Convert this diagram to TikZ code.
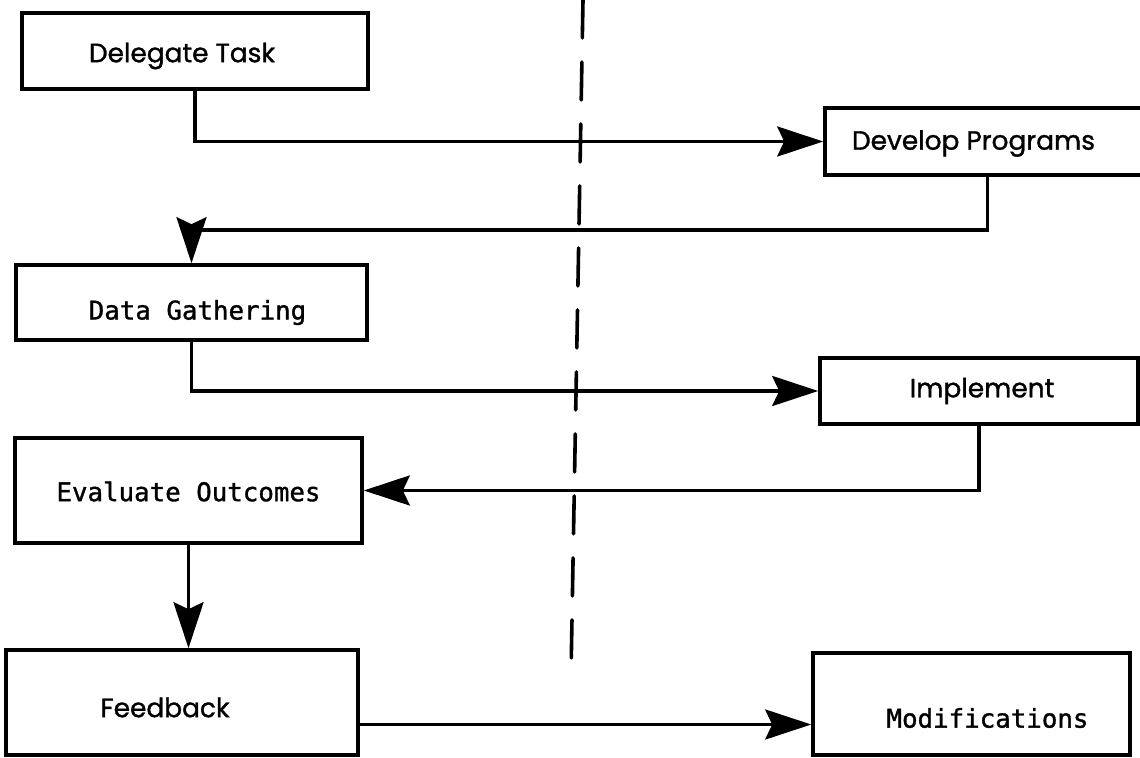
\documentclass[tikz,border=0pt]{standalone}
\usepackage{fontspec}
\usetikzlibrary{arrows.meta}
\newfontfamily\boxfont[FakeBold=1.2]{Poppins}
\newfontfamily\typefont[FakeBold=1.2]{DejaVu Sans Mono}
\begin{document}
\begin{tikzpicture}[x=0.5pt,y=-0.5pt,
  stepbox/.style={draw, line width=1.8pt, rectangle, inner sep=0pt, anchor=center},
  plain/.style={font=\boxfont\fontsize{13.2}{15}\selectfont},
  typed/.style={font=\typefont\fontsize{12.9}{15}\selectfont},
  flow/.style={line width=1.7pt, -{Stealth[length=23pt,width=15pt,inset=3.5pt]}},
  divider/.style={line width=1.8pt, dash pattern=on 19pt off 12pt, line cap=round}]
\useasboundingbox (0,0) rectangle (1140,758);

% dividing line between the two columns
\coordinate (dtop) at (583,0);
\coordinate (dbot) at (571,675);
\draw[divider] (dtop) -- (dbot);

% left column
\node[stepbox, minimum width=173pt, minimum height=38pt,
      label={[plain, xshift=-6.5pt, yshift=-2.5pt]center:Delegate Task}] (del) at (195,51) {};
\node[stepbox, minimum width=175.5pt, minimum height=37.5pt,
      label={[typed, xshift=3pt, yshift=-5pt]center:Data Gathering}] (data) at (191.5,302.5) {};
\node[stepbox, minimum width=173.5pt, minimum height=52.5pt,
      label={[typed, yshift=-0.5pt]center:Evaluate Outcomes}] (eval) at (188.5,490.5) {};
\node[stepbox, minimum width=176pt, minimum height=52.5pt,
      label={[plain, xshift=-8.5pt, yshift=-2.5pt]center:Feedback}] (fb) at (182,702.5) {};

% right column
\node[stepbox, minimum width=162.5pt, minimum height=33.5pt,
      label={[plain, xshift=-7pt, yshift=-1pt]center:Develop Programs}] (dev) at (987.5,141.5) {};
\node[stepbox, minimum width=159pt, minimum height=33pt,
      label={[plain, xshift=1.5pt]center:Implement}] (imp) at (979,391) {};
\node[stepbox, minimum width=158.5pt, minimum height=51pt,
      label={[typed, xshift=8pt, yshift=-7pt]center:Modifications}] (mod) at (971.5,704) {};

% connectors
\draw[flow] (del.south) |- (dev.west);
\draw[flow] (dev.south) -- (dev.south |- 0,230) -| (data.north);
\draw[flow] (data.south) |- (imp.west);
\draw[flow] (imp.south) |- (eval.east);
\draw[flow] (eval.south) -- (eval.south |- fb.north);
\draw[flow] ([yshift=-11pt]fb.east) -- ([yshift=-11pt]fb.east -| mod.west);
\end{tikzpicture}
\end{document}
